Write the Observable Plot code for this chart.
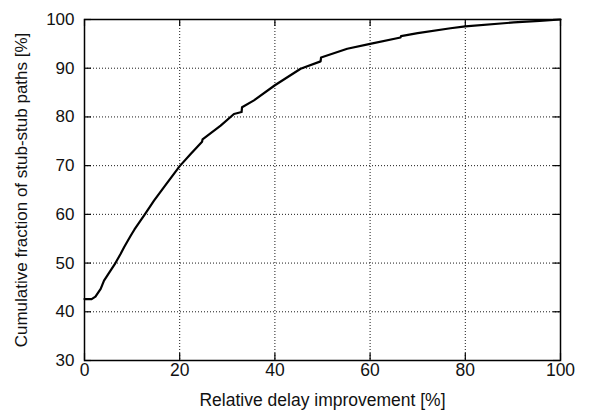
<!DOCTYPE html>
<html>
<head>
<meta charset="utf-8">
<script src="https://cdn.jsdelivr.net/npm/d3@7"></script>
<script src="https://cdn.jsdelivr.net/npm/@observablehq/plot@0.6"></script>
<style>
  html, body { margin: 0; padding: 0; background: #fff; }
</style>
</head>
<body>
<div id="chart"></div>
<script>
// Data (CDF of relative delay improvement)
const improvement = [0, 1.5, 2.3, 3.4, 4.1, 5.5, 6.5, 7.6, 8.4, 9.7, 10.5, 12.6, 14.6, 16.7, 20, 22.3, 24.7, 24.8, 28.6, 31.4, 33.0, 33.1, 35.6, 40, 45.4, 49.6, 49.7, 55.2, 60, 66.4, 66.5, 70, 76.9, 80, 90.2, 95.6, 100];
const cumulative = [42.6, 42.6, 43.1, 44.7, 46.4, 48.5, 50.0, 51.9, 53.4, 55.6, 56.9, 59.9, 62.8, 65.6, 69.9, 72.4, 74.9, 75.4, 78.2, 80.6, 81.0, 82.0, 83.4, 86.5, 89.9, 91.4, 92.2, 94.0, 95.0, 96.3, 96.6, 97.2, 98.2, 98.6, 99.4, 99.7, 100];
const xTicks = [0, 20, 40, 60, 80, 100];
const yTicks = [30, 40, 50, 60, 70, 80, 90, 100];
const xGrid = [20, 40, 60, 80];
const yGrid = [40, 50, 60, 70, 80, 90];
const xLabel = "Relative delay improvement [%]";
const yLabel = "Cumulative fraction of stub-stub paths [%]";

const data = improvement.map((x, i) => ({x, y: cumulative[i]}));

const W = 594, H = 416, mL = 84, mR = 34, mT = 19, mB = 56;
const tickLen = 7;
const innerW = W - mL - mR, innerH = H - mT - mB;
const tickStyle = {stroke: "#000", strokeWidth: 1.2};

const chart = Plot.plot({
  width: W,
  height: H,
  marginLeft: mL,
  marginRight: mR,
  marginTop: mT,
  marginBottom: mB,
  style: {fontFamily: "'Liberation Sans', Arial, Helvetica, sans-serif", fontSize: "17px", color: "#111", background: "#fff"},
  x: {domain: [0, 100]},
  y: {domain: [30, 100]},
  marks: [
    Plot.gridX(xGrid, {stroke: "#000", strokeOpacity: 0.9, strokeDasharray: "1,2"}),
    Plot.gridY(yGrid, {stroke: "#000", strokeOpacity: 0.9, strokeDasharray: "1,2"}),
    Plot.axisX(xTicks, {anchor: "bottom", tickSize: 0, tickPadding: 3, fontSize: 17,
      label: xLabel, labelAnchor: "center", labelOffset: 45, labelArrow: "none", fontSize: 17.5}),
    Plot.axisY(yTicks, {anchor: "left", tickSize: 0, tickPadding: 10, fontSize: 17,
      label: yLabel, labelAnchor: "center", labelOffset: 70, labelArrow: "none"}),
    // inward ticks on all four sides
    Plot.ruleX(xTicks, {x: d => d, insetTop: innerH - tickLen, ...tickStyle}),
    Plot.ruleX(xTicks, {x: d => d, insetBottom: innerH - tickLen, ...tickStyle}),
    Plot.ruleY(yTicks, {y: d => d, insetRight: innerW - tickLen, ...tickStyle}),
    Plot.ruleY(yTicks, {y: d => d, insetLeft: innerW - tickLen, ...tickStyle}),
    Plot.line(data, {x: "x", y: "y", stroke: "#000", strokeWidth: 2.2, curve: "linear"}),
    Plot.frame({stroke: "#000", strokeWidth: 1.5})
  ]
});
document.getElementById("chart").appendChild(chart);
</script>
</body>
</html>
